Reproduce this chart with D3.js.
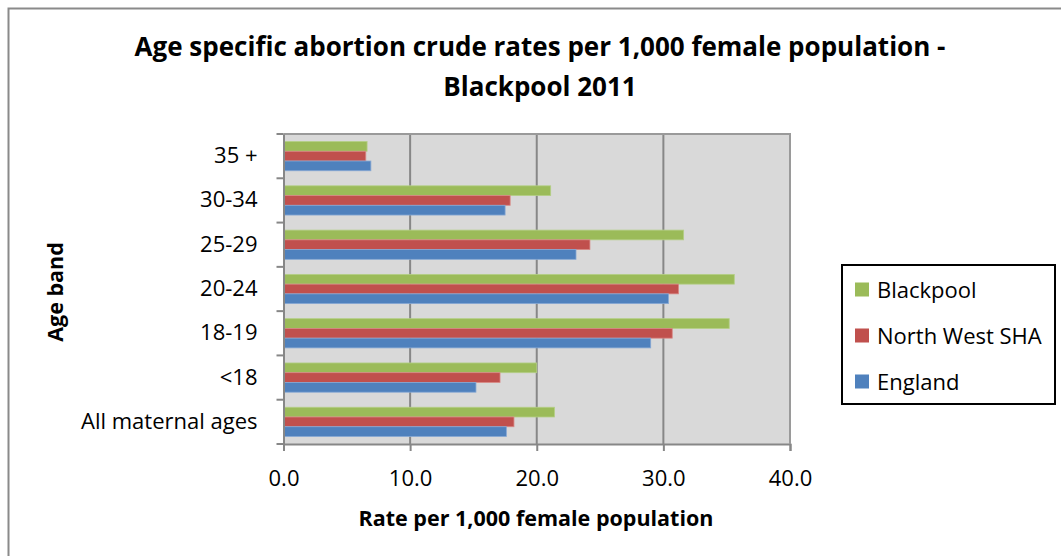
<!DOCTYPE html>
<html>
<head>
<meta charset="utf-8">
<script src="https://cdn.jsdelivr.net/npm/d3@7/dist/d3.min.js"></script>
<style>
  html, body { margin: 0; padding: 0; background: #fff; }
  svg { display: block; }
  text { font-family: "Open Sans", Lato, sans-serif; fill: #000; }
</style>
</head>
<body>
<svg id="chart" width="1061" height="556"></svg>
<script>
// Age bands, top to bottom
const categories = ["35 +", "30-34", "25-29", "20-24", "18-19", "<18", "All maternal ages"];
// Series names (top bar to bottom bar within each band)
const seriesNames = ["Blackpool", "North West SHA", "England"];
// Crude rates per 1,000 female population
const blackpool = [6.6, 21.1, 31.6, 35.6, 35.2, 20.0, 21.4];
const northWest = [6.5, 17.9, 24.2, 31.2, 30.7, 17.1, 18.2];
const england   = [6.9, 17.5, 23.1, 30.4, 29.0, 15.2, 17.6];
// Axis ticks
const xTicks = [0, 10, 20, 30, 40];

const seriesValues = [blackpool, northWest, england];
const colors = ["#9BBB59", "#C0504D", "#4F81BD"];
const edgeColors = ["#b4cf86", "#d88986", "#86a8d4"];

const svg = d3.select("#chart");
const plot = { left: 283.5, right: 790, top: 134, bottom: 444 };
const gridColor = "#878787";
const font = "'Open Sans', Lato, sans-serif";

// Outer chart border (extends past the right and bottom edges)
svg.append("rect")
  .attr("x", 8.5).attr("y", 8.5)
  .attr("width", 1100).attr("height", 600)
  .attr("fill", "#fff")
  .attr("stroke", "#8a8a8a").attr("stroke-width", 2);

const x = d3.scaleLinear().domain([0, 40]).range([plot.left, plot.right]);
const y0 = d3.scaleBand().domain(categories).range([plot.top, plot.bottom]).padding(0);
const y1 = d3.scaleBand().domain(seriesNames)
  .range([y0.bandwidth() * 0.17, y0.bandwidth() * 0.83]).padding(0);

// Plot background
svg.append("rect")
  .attr("x", plot.left).attr("y", plot.top)
  .attr("width", plot.right - plot.left).attr("height", plot.bottom - plot.top)
  .attr("fill", "#D9D9D9");

// Vertical gridlines
svg.append("g").selectAll("line")
  .data(xTicks.slice(1))
  .join("line")
  .attr("x1", d => x(d)).attr("x2", d => x(d))
  .attr("y1", plot.top).attr("y2", plot.bottom)
  .attr("stroke", gridColor).attr("stroke-width", 2);

// Top border of plot area
svg.append("line")
  .attr("x1", plot.left).attr("x2", plot.right)
  .attr("y1", plot.top).attr("y2", plot.top)
  .attr("stroke", "#9a9a9a").attr("stroke-width", 2);

// Bars
const rows = categories.map((c, i) => ({ cat: c, vals: seriesValues.map(s => s[i]) }));
const groups = svg.append("g").selectAll("g")
  .data(rows)
  .join("g")
  .attr("transform", d => `translate(0,${y0(d.cat)})`);
groups.selectAll("rect")
  .data(d => d.vals.map((v, k) => ({ name: seriesNames[k], v, k })))
  .join("rect")
  .attr("x", x(0))
  .attr("y", d => y1(d.name))
  .attr("width", d => x(d.v) - x(0))
  .attr("height", y1.bandwidth())
  .attr("fill", d => colors[d.k])
  .attr("stroke", d => edgeColors[d.k])
  .attr("stroke-width", 0.8);

// X axis
const xAxis = svg.append("g")
  .attr("transform", `translate(0,${plot.bottom})`)
  .call(d3.axisBottom(x).tickValues(xTicks).tickFormat(d3.format(".1f")).tickSize(7).tickPadding(19));
xAxis.select(".domain").attr("stroke", gridColor).attr("stroke-width", 2);
xAxis.selectAll(".tick line").attr("stroke", gridColor).attr("stroke-width", 2);
xAxis.selectAll(".tick text")
  .attr("font-size", 22).attr("font-family", font).attr("fill", "#000");

// Y axis with ticks at band boundaries
const yAxis = svg.append("g")
  .attr("transform", `translate(${plot.left},0)`)
  .call(d3.axisLeft(y0).tickSize(0).tickPadding(26));
yAxis.select(".domain").attr("stroke", gridColor).attr("stroke-width", 2);
yAxis.selectAll(".tick text")
  .attr("font-size", 22).attr("font-family", font).attr("fill", "#000");
const bounds = categories.map(c => y0(c)).concat([plot.bottom]);
yAxis.append("g").selectAll("line")
  .data(bounds)
  .join("line")
  .attr("x1", -7).attr("x2", 0)
  .attr("y1", d => d).attr("y2", d => d)
  .attr("stroke", gridColor).attr("stroke-width", 2);

// Right border of plot area
svg.append("line")
  .attr("x1", plot.right).attr("x2", plot.right)
  .attr("y1", plot.top - 1).attr("y2", plot.bottom)
  .attr("stroke", "#9a9a9a").attr("stroke-width", 2);

// Title
const title = svg.append("text")
  .attr("text-anchor", "middle")
  .attr("font-size", 26).attr("font-weight", "bold");
title.append("tspan").attr("x", 540).attr("y", 56)
  .text("Age specific abortion crude rates per 1,000 female population -");
title.append("tspan").attr("x", 540).attr("y", 96)
  .text("Blackpool 2011");

// Axis titles
svg.append("text")
  .attr("x", 536).attr("y", 526)
  .attr("text-anchor", "middle")
  .attr("font-size", 21.5).attr("font-weight", "bold")
  .text("Rate per 1,000 female population");

svg.append("text")
  .attr("transform", "translate(63,292) rotate(-90)")
  .attr("text-anchor", "middle")
  .attr("font-size", 21.5).attr("font-weight", "bold")
  .text("Age band");

// Legend
const legend = svg.append("g");
legend.append("rect")
  .attr("x", 842).attr("y", 265)
  .attr("width", 213).attr("height", 139)
  .attr("fill", "#fff")
  .attr("stroke", "#000").attr("stroke-width", 2);
const legendRows = [289.5, 335.5, 381.5];
const items = legend.selectAll("g.item")
  .data(seriesNames)
  .join("g")
  .attr("class", "item")
  .attr("transform", (d, i) => `translate(855,${legendRows[i]})`);
items.append("rect")
  .attr("x", 0).attr("y", -7)
  .attr("width", 14).attr("height", 14)
  .attr("fill", (d, i) => colors[i]);
items.append("text")
  .attr("x", 22).attr("y", 8)
  .attr("font-size", 22)
  .text(d => d);
</script>
</body>
</html>
